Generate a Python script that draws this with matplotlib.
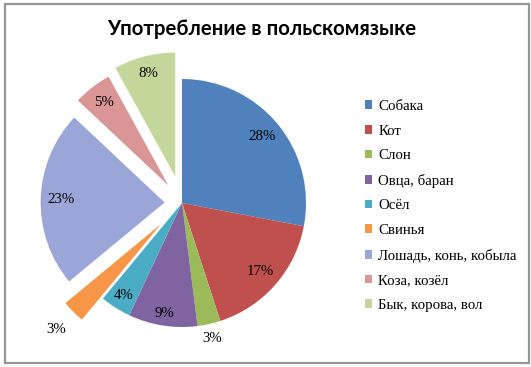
import matplotlib
matplotlib.use("Agg")
import matplotlib.pyplot as plt
import numpy as np
from matplotlib.patches import Rectangle

title = "Употребление в польскомязыке"
categories = ["Собака", "Кот", "Слон", "Овца, баран", "Осёл", "Свинья",
              "Лошадь, конь, кобыла", "Коза, козёл", "Бык, корова, вол"]
values = [28, 17, 3, 9, 4, 3, 23, 5, 8]
colors = ["#4F81BD", "#C0504D", "#9BBB59", "#8064A2", "#4BACC6", "#F79646",
          "#9AA6D8", "#D99694", "#C4D79B"]
explode = [0, 0, 0, 0, 0, 0.24, 0.14, 0.18, 0.22]
label_dist = [0.84, 0.84, 1.12, 0.90, 0.88, 1.20, 0.84, 0.85, 0.86]

W, H = 531, 367
fig = plt.figure(figsize=(W / 100, H / 100), dpi=100)
fig.patch.set_facecolor("white")

# pie axes: centre at (182, 203) px from top-left, radius ~124 px
R = 124
cx, cy = 182, H - 203
lim = 1.5
size = 2 * lim * R
ax = fig.add_axes([(cx - size / 2) / W, (cy - size / 2) / H, size / W, size / H])

wedges, _ = ax.pie(values, colors=colors, explode=explode, startangle=90,
                   counterclock=False, radius=1.0,
                   wedgeprops=dict(linewidth=0))
ax.set_xlim(-lim, lim)
ax.set_ylim(-lim, lim)
ax.set_aspect("equal")
ax.axis("off")

serif = "Liberation Serif"
total = sum(values)
for w, v, e, d in zip(wedges, values, explode, label_dist):
    ang = np.deg2rad((w.theta1 + w.theta2) / 2)
    r = e + d
    ax.text(r * np.cos(ang), r * np.sin(ang), f"{round(100 * v / total)}%",
            ha="center", va="center", fontsize=10.7, family=serif, color="black")

fig.text(262 / W, 1 - 29 / H, title, ha="center", va="center",
         fontsize=14.7, fontweight="bold", family="Lato")

handles = [Rectangle((0, 0), 1, 1, facecolor=c, edgecolor="none") for c in colors]
leg = fig.legend(handles, categories, loc="upper left",
                 bbox_to_anchor=(365 / W, 1 - 100 / H), frameon=False,
                 prop=dict(family=serif, size=10.7), handlelength=0.5,
                 handleheight=0.5, handletextpad=0.4, labelspacing=0.78,
                 borderpad=0, borderaxespad=0)

fig.add_artist(Rectangle((5 / W, 4 / H), 524 / W, 359 / H, transform=fig.transFigure,
                         fill=False, edgecolor="#969696", linewidth=1.6))

fig.savefig("out.png", dpi=100)
